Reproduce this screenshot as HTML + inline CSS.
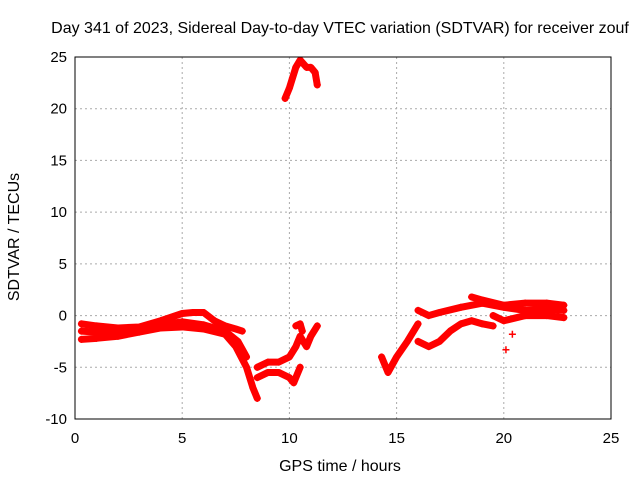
<!DOCTYPE html>
<html><head><meta charset="utf-8"><style>
html,body{margin:0;padding:0;background:#fff;}
svg{display:block;font-family:"Liberation Sans",sans-serif;}
</style></head><body>
<svg id="chart" width="640" height="480">
<text x="340" y="33" text-anchor="middle" font-size="16">Day 341 of 2023, Sidereal Day-to-day VTEC variation (SDTVAR) for receiver zouf</text>
<text x="340" y="471" text-anchor="middle" font-size="16">GPS time / hours</text>
<text x="0" y="0" transform="translate(19,237) rotate(-90)" text-anchor="middle" font-size="16">SDTVAR / TECUs</text>
<g id="grid"></g>
<g id="ticks"></g>
<g id="marks"></g>
<rect x="75" y="57" width="536" height="362" fill="none" stroke="#000"/>
</svg>
<script>
const xTicks=[0,5,10,15,20,25];
const yTicks=[-10,-5,0,5,10,15,20,25];
const track1=[[0.3,-0.8],[1,-1],[2,-1.2],[3,-1.1],[4,-0.5],[5,0.2],[5.5,0.3],[6,0.3],[6.5,-0.5],[7,-1],[7.5,-1.3],[7.8,-1.5]];
const track2=[[0.3,-2.3],[1,-2.2],[2,-2],[3,-1.6],[4,-1.2],[5,-1.1],[6,-1.3],[7,-1.8],[7.5,-3],[8,-5],[8.3,-7],[8.5,-8]];
const track3=[[0.3,-1.5],[1,-1.6],[2,-1.6],[3,-1.3],[4,-0.9],[5,-0.6],[6,-0.9],[7,-1.5],[7.6,-2.5],[8,-4]];
const track4=[[8.5,-5],[9,-4.5],[9.5,-4.5],[10,-4],[10.3,-3],[10.5,-2],[10.8,-3],[11,-2],[11.3,-1]];
const track5=[[8.5,-6],[9,-5.5],[9.5,-5.5],[10,-6],[10.2,-6.5],[10.5,-5]];
const track6=[[10.3,-1],[10.5,-0.8],[10.6,-1.5]];
const track7=[[9.8,21],[10,22],[10.3,24],[10.5,24.7],[10.8,24],[11,24],[11.2,23.5],[11.3,22.3]];
const track8=[[14.3,-4],[14.6,-5.5],[15,-4],[15.5,-2.5],[16,-0.8]];
const track9=[[16,0.5],[16.5,0],[17,0.3],[18,0.8],[19,1.2],[20,0.8],[21,0.5],[22,0.6],[22.8,0.5]];
const track10=[[16,-2.5],[16.5,-3],[17,-2.5],[17.5,-1.5],[18,-0.8],[18.5,-0.5],[19,-0.8],[19.5,-1]];
const track11=[[18.5,1.8],[19,1.5],[20,1],[21,1.2],[22,1.2],[22.8,1]];
const track12=[[19.5,0],[20,-0.5],[21,0],[22,0],[22.8,-0.2]];
const isolated=[[20.1,-3.3],[20.4,-1.8]];
const tracks=[track1,track2,track3,track4,track5,track6,track7,track8,track9,track10,track11,track12];

const NS="http://www.w3.org/2000/svg";
const X=v=>75+(v-0)*536/25;
const Y=v=>419-(v+10)*362/35;
const grid=document.getElementById('grid'),ticks=document.getElementById('ticks'),marks=document.getElementById('marks');
function mk(t,a,p){const e=document.createElementNS(NS,t);for(const k in a)e.setAttribute(k,a[k]);p.appendChild(e);return e;}
xTicks.forEach(t=>{
  if(t>0&&t<25){const g=mk('line',{x1:X(t),x2:X(t),y1:57,y2:419,stroke:'#aaa','stroke-dasharray':'2,3'},grid);
  
  }
  const l=mk('text',{x:X(t),y:443,'text-anchor':'middle','font-size':15},ticks);l.textContent=t;
  
  
});
yTicks.forEach(t=>{
  if(t>-10&&t<25){const g=mk('line',{x1:75,x2:611,y1:Y(t),y2:Y(t),stroke:'#aaa','stroke-dasharray':'2,3'},grid);
  
  }
  const l=mk('text',{x:67,y:Y(t)+5,'text-anchor':'end','font-size':15},ticks);l.textContent=t;
  
  
});
function plus(x,y){const p=mk('path',{d:`M${x-3.5},${y}h7M${x},${y-3.5}v7`,stroke:'#f00','stroke-width':1.5},marks);
  
  }
tracks.forEach(tr=>{
  const pl=mk('polyline',{points:tr.map(p=>X(p[0])+','+Y(p[1])).join(' '),fill:'none',stroke:'#f00','stroke-width':7,'stroke-linejoin':'round','stroke-linecap':'round'},marks);
  
  
  tr.forEach(p=>plus(X(p[0]),Y(p[1])));
});
isolated.forEach(p=>plus(X(p[0]),Y(p[1])));
</script>
</body></html>
